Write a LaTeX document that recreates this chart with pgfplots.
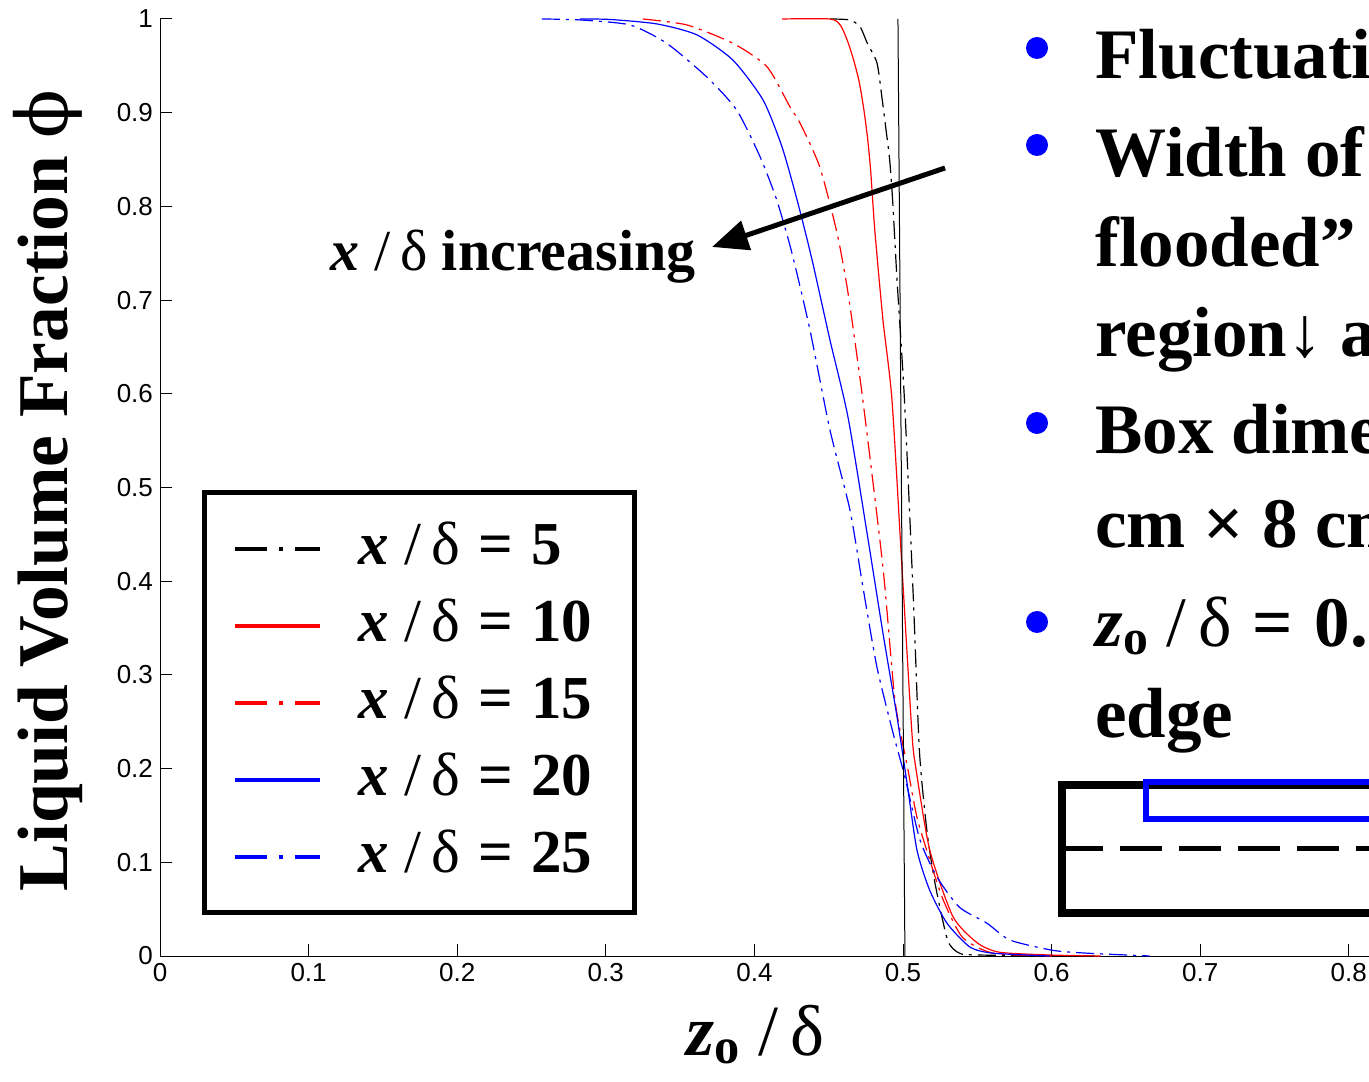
\documentclass[border=0pt]{standalone}
\usepackage{pgfplots}
\pgfplotsset{compat=1.18}
\usetikzlibrary{arrows.meta}
\usepackage{fontspec}
\setmainfont{Liberation Serif}
\newfontfamily\sansf{Liberation Sans}
\newfontfamily\dvserif{DejaVu Serif}
\newcommand{\sd}{{\mdseries /\,δ}}
\newcommand{\eq}{\hspace{0.3em}=\hspace{0.3em}}
\begin{document}
\begin{tikzpicture}
\useasboundingbox (0,0) rectangle (684.5pt,540.5pt);
\clip (0,0) rectangle (684.5pt,540.5pt);
\begin{axis}[
  at={(80pt,62.5pt)}, anchor=south west,
  scale only axis, width=668.7pt, height=468.5pt,
  xmin=0, xmax=0.9, ymin=0, ymax=1,
  axis lines*=left,
  clip=false,
  xtick={0,0.1,0.2,0.3,0.4,0.5,0.6,0.7,0.8,0.9},
  ytick={0,0.1,0.2,0.3,0.4,0.5,0.6,0.7,0.8,0.9,1},
  tick label style={font=\sansf\fontsize{13}{15}\selectfont},
  /pgf/number format/assume math mode=true,
  tick align=inside, major tick length=6pt,
  tick style={black, line width=0.5pt},
  axis line style={black, line width=0.5pt},
  xlabel={\textit{z}\textsubscript{o} \sd},
  xlabel style={at={(axis description cs:0.445,-0.084)}, anchor=center, font=\bfseries\fontsize{36}{40}\selectfont},
  ylabel={Liquid Volume Fraction {\mdseries\dvserif ϕ}},
  ylabel style={at={(axis description cs:-0.0837,0.497)}, anchor=center, font=\bfseries\fontsize{35.7}{40}\selectfont},
  legend image code/.code={\draw[#1] (0pt,0pt) -- (42.5pt,0pt);},
  legend cell align=left,
  legend style={at={(axis cs:0.0283,0.4973)}, anchor=north west,
    draw=black, line width=2.5pt,
    font=\bfseries\fontsize{30.5}{36}\selectfont,
    inner xsep=14pt, inner ysep=14pt,
    row sep=10.5pt, column sep=18.5pt,
    nodes={inner sep=0pt, text height=22pt, text depth=6pt}},
]
% x/delta = 5
\addplot[black, line width=0.6pt, smooth, tension=0.4, dash pattern=on 9pt off 3pt on 1.5pt off 3pt,
  legend image post style={line width=2pt, dash pattern=on 16pt off 6pt on 2pt off 6pt}] coordinates {
(0.451,1.0) (0.464,0.999) (0.471,0.992) (0.476,0.974) (0.4825,0.953) (0.486,0.914) (0.4886,0.8815)
(0.491,0.850) (0.493,0.807) (0.496,0.721) (0.501,0.593) (0.507,0.380) (0.511,0.220)
(0.516,0.135) (0.5215,0.078) (0.530,0.017) (0.538,0.003) (0.552,0.001) (0.63,0)
};
\addlegendentry{\textit{x} \sd\eq 5\hspace*{7pt}}
% x/delta = 10
\addplot[red, line width=0.6pt, smooth, tension=0.4, legend image post style={line width=2pt}] coordinates {
(0.4186,1.0) (0.451,1.0) (0.458,0.993) (0.4630,0.975) (0.4670,0.955) (0.4705,0.933) (0.4735,0.905) (0.4760,0.875)
(0.4782,0.839) (0.481,0.775) (0.4865,0.679) (0.4926,0.593) (0.4993,0.415) (0.506,0.238)
(0.5087,0.200) (0.518,0.113) (0.5336,0.042) (0.55,0.014) (0.565,0.004) (0.6,0.001) (0.633,0)
};
\addlegendentry{\textit{x} \sd\eq 10\hspace*{7pt}}
% x/delta = 15
\addplot[red, line width=0.6pt, smooth, tension=0.4, dash pattern=on 9pt off 3pt on 1.5pt off 3pt,
  legend image post style={line width=2pt, dash pattern=on 16pt off 6pt on 2pt off 6pt}] coordinates {
(0.325,1.0) (0.3546,0.9936) (0.3856,0.974) (0.4085,0.949) (0.424,0.906) (0.4307,0.889)
(0.444,0.842) (0.4556,0.7716) (0.463,0.7076) (0.473,0.593) (0.4865,0.415) (0.4946,0.273)
(0.503,0.2017) (0.5094,0.148) (0.518,0.1025) (0.527,0.06) (0.540,0.020) (0.5606,0.003) (0.6,0)
};
\addlegendentry{\textit{x} \sd\eq 15\hspace*{7pt}}
% x/delta = 20
\addplot[blue, line width=0.6pt, smooth, tension=0.4, legend image post style={line width=2pt}] coordinates {
(0.2826,1.0) (0.3028,0.9995) (0.3345,0.9947) (0.3614,0.983) (0.3856,0.956) (0.4058,0.9136)
(0.4186,0.8634) (0.4287,0.807) (0.4388,0.743) (0.4509,0.657) (0.463,0.575) (0.4758,0.4514)
(0.4865,0.3447) (0.496,0.255) (0.5027,0.1846) (0.5094,0.113) (0.518,0.070) (0.5296,0.035)
(0.545,0.0096) (0.5606,0.003) (0.599,0)
};
\addlegendentry{\textit{x} \sd\eq 20\hspace*{7pt}}
% x/delta = 25
\addplot[blue, line width=0.6pt, smooth, tension=0.4, dash pattern=on 9pt off 3pt on 1.5pt off 3pt,
  legend image post style={line width=2pt, dash pattern=on 16pt off 6pt on 2pt off 6pt}] coordinates {
(0.257,1.0) (0.2826,0.999) (0.3163,0.9936) (0.341,0.974) (0.368,0.938) (0.388,0.903)
(0.4038,0.853) (0.415,0.807) (0.4253,0.750) (0.4374,0.668) (0.4509,0.561) (0.4643,0.476)
(0.473,0.394) (0.4825,0.308) (0.4933,0.238) (0.5013,0.191) (0.5114,0.124) (0.523,0.084)
(0.538,0.052) (0.5565,0.035) (0.572,0.017) (0.601,0.006) (0.624,0.003) (0.666,0)
};
\addlegendentry{\textit{x} \sd\eq 25\hspace*{7pt}}
% reference line near z0/delta = 0.5
\addplot[black, line width=0.5pt, forget plot] coordinates {(0.4966,1) (0.5013,0)};
\node[font=\bfseries\fontsize{29}{34}\selectfont, anchor=base] at (axis cs:0.2376,0.732) {\textit{x} \sd{} increasing};
\draw[line width=2.5pt, -{Triangle[length=18pt,width=15pt]}] (axis cs:0.5283,0.841) -- (axis cs:0.3715,0.7567);
\end{axis}
\begin{scope}[x=0.5pt, y=-0.5pt, yshift=540.5pt]
\foreach \yy in {48,145,423,622} {\fill[blue] (1037,\yy) circle[radius=5.5pt];}
\begin{scope}[every node/.style={anchor=base west, inner sep=0pt, font=\bfseries\fontsize{35.5}{40}\selectfont}]
\node at (1095,79) {Fluctuations};
\node at (1095,177) {Width of “};
\node at (1095,267) {flooded”};
\node at (1095,357) {region↓ as};
\node at (1095,454) {Box dimensions};
\node at (1095,548) {cm × 8 cm};
\node at (1095,647) {\textit{z}\textsubscript{o} \sd\eq 0.5};
\node at (1095,738) {edge};
\end{scope}
\draw[line width=3.75pt] (1500,785) -| (1062,913) -- (1500,913);
\draw[line width=2.5pt, dash pattern=on 21pt off 8.5pt, dash phase=2.5pt] (1066,849) -- (1500,849);
\draw[blue, line width=3pt] (1500,782) -| (1146,819) -- (1500,819);
\end{scope}
\end{tikzpicture}
\end{document}
